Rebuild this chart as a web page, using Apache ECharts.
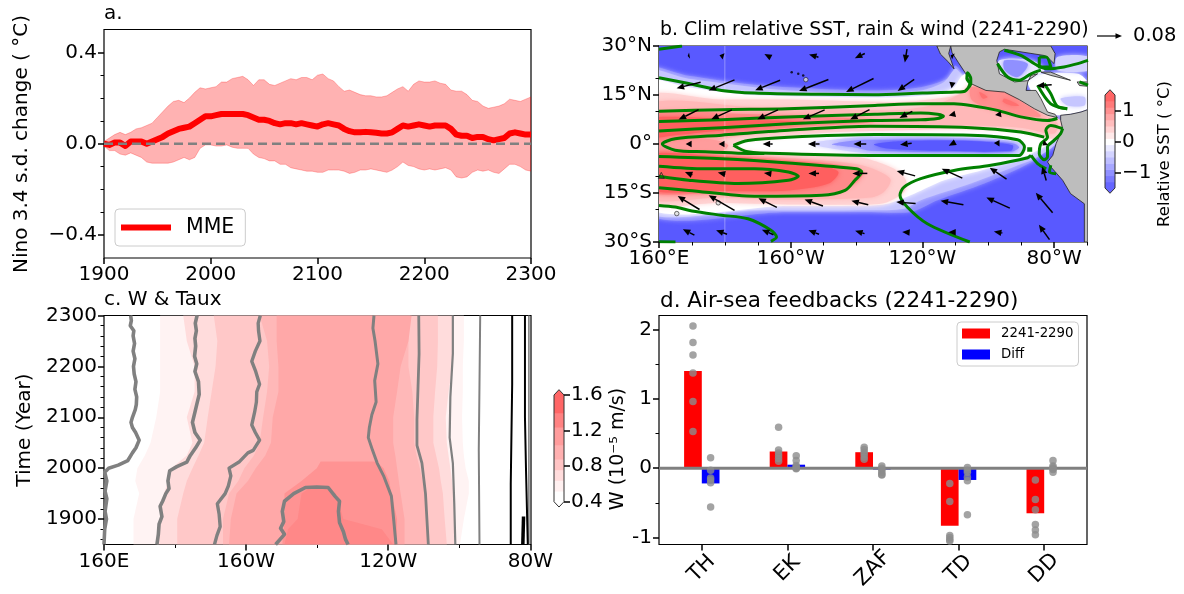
<!DOCTYPE html>
<html>
<head>
<meta charset="utf-8">
<script src="https://cdn.jsdelivr.net/npm/echarts@6/dist/echarts.min.js"></script>
<style>
  html, body { margin: 0; padding: 0; background: #fff; }
  #chart { width: 1184px; height: 594px; }
</style>
</head>
<body>
<div id="chart"></div>
<script>
// panel a: 5-year steps from 1900 to 2300
const mmeValues = [0,-0.005,0.005,0.005,-0.01,0.01,0.01,0.01,0,0.01,0.02,0.03,0.045,0.055,0.065,0.07,0.075,0.09,0.105,0.12,0.12,0.125,0.13,0.13,0.13,0.13,0.13,0.125,0.115,0.105,0.105,0.1,0.09,0.085,0.09,0.09,0.085,0.09,0.085,0.08,0.075,0.085,0.09,0.085,0.08,0.065,0.055,0.05,0.05,0.052,0.05,0.048,0.045,0.045,0.05,0.065,0.08,0.075,0.08,0.085,0.08,0.075,0.08,0.08,0.08,0.065,0.04,0.035,0.035,0.025,0.03,0.03,0.02,0.015,0.02,0.025,0.045,0.05,0.045,0.04,0.04]
const upperValues = [0.01,0.025,0.04,0.05,0.04,0.05,0.065,0.07,0.08,0.09,0.115,0.14,0.165,0.185,0.19,0.18,0.2,0.225,0.245,0.24,0.245,0.25,0.27,0.27,0.285,0.29,0.295,0.28,0.255,0.28,0.28,0.26,0.255,0.265,0.275,0.285,0.28,0.29,0.29,0.28,0.3,0.305,0.285,0.275,0.25,0.23,0.235,0.225,0.215,0.21,0.21,0.205,0.205,0.21,0.225,0.24,0.25,0.23,0.26,0.275,0.27,0.27,0.275,0.265,0.26,0.235,0.23,0.23,0.215,0.19,0.185,0.165,0.155,0.16,0.165,0.175,0.195,0.19,0.185,0.195,0.205]
const lowerValues = [-0.01,-0.03,-0.03,-0.045,-0.05,-0.04,-0.05,-0.06,-0.08,-0.085,-0.085,-0.085,-0.085,-0.08,-0.07,-0.06,-0.07,-0.06,-0.02,-0.005,-0.005,-0.01,-0.01,-0.005,-0.015,-0.02,-0.02,-0.02,-0.045,-0.06,-0.065,-0.075,-0.075,-0.09,-0.09,-0.105,-0.11,-0.115,-0.12,-0.12,-0.125,-0.125,-0.115,-0.115,-0.115,-0.12,-0.13,-0.125,-0.115,-0.115,-0.11,-0.115,-0.12,-0.125,-0.115,-0.1,-0.08,-0.095,-0.1,-0.11,-0.115,-0.11,-0.115,-0.11,-0.105,-0.115,-0.145,-0.15,-0.145,-0.125,-0.115,-0.12,-0.115,-0.125,-0.13,-0.11,-0.09,-0.09,-0.1,-0.115,-0.12]

// panel b: filled SST bands as [lon, lat] outlines (lon in degrees east)
const sstPaleA = [[155,22.8],[168.9,20.9],[184.1,18.7],[199.3,17.4],[225.6,16.4],[239.5,17.4],[248.6,20.5],[250,24],[254.7,18.5],[278,11.3],[281,1.1],[277,-1.9],[273,-5.6],[258.8,-12.1],[244.6,-17.2],[236.4,-20.8],[224.3,-20.8],[199.3,-20.8],[155,-20.5]]
const sstPaleB = [[155,22],[168.9,20],[184.1,18],[199.3,16.4],[225.6,15.4],[239.5,16.4],[246.6,19],[250,23],[251.7,21.5],[254.7,17.9],[278,11],[281,1],[274,-4.5],[269,-6.5],[254.7,-12.1],[239.5,-17.2],[234.4,-19.8],[224.3,-20.3],[189,-20.3],[155,-19.8]]
const sstWhite = [[155,19],[168.9,17.4],[179,15.9],[189,14.9],[209.4,14.4],[225.6,14.2],[234.4,14.4],[244.6,15.4],[249.6,17.4],[251.7,20.5],[253.2,21.5],[254.2,19],[278,11.3],[279.6,1.6],[273,-3],[269,-4.5],[257.8,-8.1],[246.6,-11.1],[237.5,-15.2],[229.3,-18.3],[224.3,-18.8],[199.3,-19],[155,-18.8]]
const sstPink = [[155,14],[179,13.6],[199.3,13.6],[225.6,12.9],[234.4,12.9],[244.6,13.9],[251.7,15.4],[254.7,18.5],[259.3,16.9],[264.9,16.4],[271,12.3],[278,8.8],[282,7.2],[282,4.2],[279.6,1.6],[270,4],[254.7,4.7],[239.5,4.4],[224.3,4],[209.4,3.4],[195,2.1],[185,1.1],[182.9,-0.4],[185,-1.9],[199.3,-3.2],[220,-4],[224.3,-4.8],[231.4,-7.6],[235,-11.1],[234.4,-14.7],[229.3,-17.8],[224.3,-18.5],[199.3,-18.5],[179,-18],[155,-17.2]]
const sstRose = [[155,11.3],[189,11.3],[225.6,10.3],[234.4,10.5],[244.6,12.3],[253.7,16.4],[256.8,18],[264.9,15.9],[270.9,12.3],[277,8.8],[281,6.4],[280,3.2],[269.9,5],[254.7,5.7],[234.4,5.7],[224.3,5.4],[209.4,4.7],[194,3.7],[182,2.1],[176,0.6],[175.5,-0.4],[178,-1.9],[189,-3.5],[209.4,-5],[221.6,-6.5],[228.3,-9.1],[230.4,-11.1],[228.3,-14.7],[224.3,-16.4],[199.3,-17],[179,-16.4],[155,-15.7]]
const sstWarmMid = [[155,2.5],[170,2],[178,1],[181,-0.4],[179,-2.4],[170,-3.5],[155,-4]]
const sstWarmNorth = [[155,9.1],[189,9.1],[219.5,7.8],[225.6,6.7],[199.3,5],[184,3.4],[171,2.1],[164.9,1.1],[155,0.6]]
const sstWarmSouth = [[155,-3],[179,-3.5],[199.3,-5],[215.5,-6.5],[222,-8.6],[219.5,-12.1],[213.5,-14.7],[199.3,-15.4],[179,-15],[155,-14.2]]
const sstWarmMexico = [[254.7,17.4],[259.3,16.6],[264.9,16],[270,13],[276,8.5],[268,9],[260,11],[255,13.5]]
const sstHotNorth = [[155,7.8],[184,7.4],[204.4,6.7],[189,5],[174,3.7],[164.9,2.7],[155,2.1]]
const sstHotSouth = [[155,-3.6],[179,-3.9],[197,-5.3],[209.4,-6.5],[214.5,-8.6],[211.5,-12.1],[199.3,-14.2],[179,-14.4],[155,-13.6]]
const sstHotMexicoA = [[257.3,15.9],[259.8,14.4],[258.3,13.9]]
const sstHotMexicoB = [[264.9,13.9],[269.4,11.8],[266.9,11.8],[264.4,12.9]]
const sstTongueA = [[206.4,0.1],[215.5,1.6],[225.6,2.3],[244.6,2.1],[259.8,1.6],[268.9,0.6],[271,-0.9],[268.9,-3.5],[254.7,-3.5],[234.4,-3.2],[224.3,-3],[214.5,-1.7]]
const sstTongueB = [[212.5,-0.1],[219.5,1.1],[225.6,1.3],[254.7,1.1],[267.9,0.1],[269.4,-1.1],[266.9,-2.4],[244.6,-2.4],[224.3,-2.1],[219.5,-1.1]]
const sstTongueC = [[225.3,-0.1],[234.4,0.9],[254.7,0.9],[267.4,-0.4],[266.9,-2.1],[244.6,-2.1],[229.3,-1.4]]
const sstCaribbean = [[272,20.5],[287.2,21.5],[291,17.4],[291,11.3],[281.6,8.8],[278,9.8],[273,16.4]]
const sstCaribbeanCool = [[282,13.9],[289.2,14.4],[289.2,11.8],[284,11.8]]
const sstGulf = [[263.4,25.6],[273,25.6],[277,22.6],[272,19.5],[267,18.5],[263.4,21.5]]
const sstGulfCool = [[265,25.6],[272,24.6],[269,20.5],[265,22.6]]
const sstAtlantic = [[281,26.6],[291,26.6],[291,22.6],[281,22.6]]

const landNorth = [[248.6,30],[249,28],[250.9,25],[253.2,21.5],[254.7,18.5],[259.3,16.4],[264.9,15.9],[269.4,13.6],[274,10.8],[278,8.8],[281,8.1],[280.3,9.1],[278,9.8],[276,13.9],[274.5,16.4],[271.5,16.4],[272,19],[273,21],[275,21.5],[272,19.4],[268,19],[263.4,21.5],[262.6,25.6],[263.4,28.2],[264.9,29],[277,27.1],[278,26.6],[280,24.6],[280.3,27.7],[279,30]]
const landBaja = [[244.4,30],[248.6,30],[248,27.7],[249.6,23],[248,25],[245.5,27.5]]
const landSouth = [[282,8.8],[285,9.1],[288.2,9.8],[291,10.8],[291,-30],[289.2,-30],[289.2,-18.3],[285,-15.2],[282.6,-11.1],[279,-7],[278,-5.5],[279.6,-3.5],[280.6,0.1],[282.6,4.7],[282,7.2]]
const landCuba = [[276,22],[279,22],[285,19.5],[279,21]]
const landHispaniola = [[287,19],[291,19],[291,17.6],[287.7,17.9]]

// panel b: rain contours
const rainCorner = [[160,29],[167,30]]
const rainNorth = [[160,20.3],[169,18.5],[179,16.4],[189,15.6],[209,15.2],[225,15.1],[240,15.6],[250,15.9],[253,16.2],[254.4,18.5],[253.5,20],[253.7,21.8],[254.7,20],[254.7,18.5],[253,16.2]]
const rainItcz = [[160,10],[179,10.5],[199,10.8],[225.6,11.8],[239.5,12.3],[249.6,12.3],[254.7,11.8],[262.8,10.3],[269.9,8.3],[278,7.2],[281,7.8]]
const rainTongue = [[160,6.9],[179,7.4],[199.3,8.3],[225.6,9.1],[239.5,9.5],[244.6,9.1],[246.4,8.5],[244.6,7.8],[239.5,7.4],[224.3,7.2],[199.3,6.2],[179,5],[160,4]]
const rainNoseOuter = [[277,2.1],[269.9,3.7],[254.7,5],[224.3,5.4],[199.3,4.2],[179,2.7],[164.9,1.6],[161,0],[164.9,-1.9],[174,-2.4],[184,-2.8],[192,-2.9]]
const rainNoseInner = [[182.6,-0.4],[187,1.1],[199.3,2.1],[225.6,2.9],[254.7,2.7],[268.9,1.3],[271,-0.9],[269.4,-3.5],[254.7,-3.5],[224.3,-3.5],[199.3,-3],[187,-2.4],[182.6,-0.4]]
const rainSouthOuter = [[160,-3.8],[179,-4.5],[199.3,-5.8],[220,-7.6],[221.6,-8.6],[219.5,-11.1],[216.5,-14.2],[209.4,-15.7],[189,-16],[169,-14.2],[160,-13.4]]
const rainSouthInner = [[160,-6.8],[174,-7.6],[189,-7.6],[199.3,-8.6],[202.3,-9.9],[199.3,-11.1],[184,-12.1],[169,-11.1],[160,-9.9]]
const rainSouthWest = [[160,-18.8],[164.9,-19.3],[170,-20.5],[179,-21.8],[187,-22.9],[194,-26.4],[195.7,-28.5],[194,-29.8]]
const rainBottom = [[160,-29.9],[165,-30]]
const rainSouthEast = [[273,-3.5],[272,-4.2],[260.8,-6.5],[249.6,-8.1],[239.5,-10.6],[234.4,-13.2],[233.2,-15.7],[235.4,-19.3],[241.5,-24.4],[254.4,-30]]
const rainCoastA = [[273,-3.5],[275,-6],[277.6,-7.6]]
const rainCoastB = [[282.6,4.7],[279,5.7],[277.5,4.2],[278,2.1],[276,0.1],[275.5,-3],[277,-4.8],[278,-4],[278,-0.9],[280,1.1],[282,3.2],[282.6,4.7]]
const rainCoastC = [[279,-6.5],[278.6,-8.6],[280.6,-9.1]]
const rainBlob = [[272.6,-1],[272.6,-2.4]]
const rainGulfA = [[264.9,28.7],[269.9,27.1],[275,24],[278,23],[283,23.6],[287.2,24.6],[290.3,25.6]]
const rainGulfB = [[262.8,24.6],[265.9,20.5],[269.4,19.5],[273,21.5],[276,22.6]]
const rainGulfC = [[275.5,26.6],[275.5,23.6],[279,23.6],[277.6,26.6],[275.5,26.6]]
const rainCarA = [[275,18],[279,12.3],[284,10.8]]
const rainCarB = [[277,18.5],[279,15.4],[281,11.5],[284,10.8]]
const rainCarC = [[287.7,19],[290.3,18]]

// panel b: wind stress rows, north to south
const windLons = [169,179,193,207,221,235,249,263,277]
const windLats = [27,18,9,0,-9,-18,-27]
const windU = [
  [-0.006,-0.013,-0.021,-0.03,-0.032,-0.007,-0.009,null,null],
  [-0.077,-0.083,-0.08,-0.094,-0.088,-0.053,-0.003,null,-0.048],
  [-0.064,-0.066,-0.066,-0.07,-0.062,-0.041,-0.021,-0.019,null],
  [-0.019,-0.019,-0.032,-0.037,-0.041,-0.037,-0.021,0.009,-0.011],
  [-0.024,-0.024,-0.024,-0.034,-0.048,-0.059,-0.066,-0.054,-0.013],
  [-0.07,-0.083,-0.059,-0.059,-0.054,-0.062,-0.073,-0.075,-0.054],
  [-0.037,-0.035,-0.037,-0.034,-0.03,-0.024,-0.024,-0.027,-0.034]
]
const windV = [
  [-0.001,0.004,0.011,0.009,-0.015,-0.043,0.004,null,null],
  [-0.019,-0.034,-0.032,-0.037,-0.043,-0.037,-0.019,null,-0.003],
  [-0.032,-0.03,-0.03,-0.03,-0.032,-0.021,-0.005,-0.003,null],
  [0,0,0,0,0,-0.005,-0.011,-0.016,-0.009],
  [0.009,0.005,0.003,0,0,0.016,0.03,0.037,0.045],
  [0.043,0.048,0.029,0.021,0.013,0.005,0.013,0.034,0.064],
  [0.019,0.013,0.016,0.013,0.009,0.002,0,0.005,0.048]
]
const islandDots = [[200.3,22],[202.3,21.5],[203.8,21]]
const islandRings = [[204.6,19.7],[178,-18],[165.4,-21.3]]
const islandPeaks = [[160.7,-9.6]]

// colour bars
const sstLevels = [-1.5,-1.3,-1.1,-0.9,-0.7,-0.5,-0.3,-0.1,0.1,0.3,0.5,0.7,0.9,1.1,1.3,1.5]
const sstColors = ['#6565ff','#7a7aff','#9090ff','#a7a7ff','#bdbdff','#d3d3ff','#e9e9ff','#ffffff','#ffe9e9','#ffd3d3','#ffbdbd','#ffa7a7','#ff9090','#ff7a7a','#ff6565']
const wLevels = [0.4,0.52,0.64,0.76,0.88,1.04,1.24,1.4,1.6]
const wColors = ['#ffffff','#fff0f0','#ffdcdc','#ffc4c4','#ffb0b0','#ff9c9c','#ff8282','#ff6666']

// panel c: filled W bands, edges per year
const bandYears = [1850,1900,1950,1975,2000,2025,2050,2100,2150,2200,2250,2300]
const band1Left = [168.3,168.3,169.9,168.8,169.4,171.5,173.1,174.7,175.8,175.8,175.8,175.8]
const band1Right = [260.2,261.3,262.7,262.7,261.8,261.3,261,260.8,261,261,261.3,261.3]
const band2Left = [174.9,175.8,176.9,178,179,183.3,184.9,183.3,185.5,185.5,183.3,182.3]
const band2Right = [258.6,258.6,258.4,258,257.5,257,256.5,256.2,257,258.1,258.2,258.2]
const band3Left = [180.6,180.6,182.3,183.3,184.9,186.6,188.2,189.2,190.3,191.4,191.9,190.9]
const band3Right = [256.5,255.9,255.4,254.8,254.3,253.5,252.7,252.7,253.2,253.8,254,254]
const band4Left = [193.5,193.5,195.2,197.8,199.5,202.2,203.8,204.8,205.9,206.5,205.9,203.8]
const band4Right = [251.1,251.1,250.5,249.7,248.9,248,247.3,247.3,246.8,245.7,245.7,246.2]
const band5Left = [195.2,195.7,197.3,200.5,202.7,205.4,207,207.5,209.1,209.1,208.6,208.6]
const band5Right = [244.6,244.6,243.5,243,242.5,242,241.4,241.4,242.5,243.5,245.7,246.6]
const band6Years = [1850,1900,1950,1975,2000,2013]
const band6Left = [210.2,210.8,210.8,215.6,219.9,221]
const band6Right = [242.3,242.5,240.9,240.3,238.7,236.6]
const band7Years = [1850,1880,1900,1950,1965]
const band7Left = [210.8,211.8,214.5,215.6,218.8]
const band7Right = [241.4,238.2,227.4,225.3,222]

// panel c: Taux contours as [lon, year]
const tauxA = [[167.5,2300],[167.7,2290],[167.4,2280],[168.4,2270],[168.2,2260],[168.6,2245],[168.2,2230],[168.7,2215],[168.3,2200],[168.5,2185],[169,2170],[168.7,2155],[169.2,2140],[169.1,2125],[168.8,2115],[168,2100],[167.6,2090],[168,2080],[168.9,2070],[169.9,2055],[169,2040],[168,2030],[166.7,2015],[164,2006],[161.3,2000],[160.2,1992],[160.8,1975],[160.3,1955],[160.8,1940],[160.3,1915],[160.7,1900],[160.2,1880],[160,1850]]
const tauxB = [[186.2,2300],[185.7,2285],[186,2270],[185.6,2255],[185.8,2240],[185.5,2220],[186.1,2205],[185.6,2190],[186.6,2170],[186.8,2145],[186.1,2125],[185.6,2110],[184.9,2090],[185.6,2070],[187.1,2055],[185.8,2040],[184.3,2025],[183.3,2012],[180.5,2003],[178.5,1995],[178,1975],[178.3,1960],[177.4,1950],[176.5,1935],[175.8,1925],[176.3,1905],[175.5,1890],[175.3,1870],[174.9,1850]]
const tauxC = [[204,2300],[203.4,2285],[203.5,2270],[203.9,2250],[202.6,2230],[201.6,2210],[202.7,2190],[203.8,2165],[203,2150],[202.9,2130],[202.4,2110],[201.6,2085],[202.6,2070],[203.8,2055],[202,2035],[200.5,2030],[198,2012],[195.2,2000],[195.7,1985],[195,1965],[194.1,1950],[191.9,1930],[192.4,1910],[192.7,1885],[191.8,1868],[191.1,1850]]
const tauxDome = [[208.3,1850],[210.8,1870],[209.7,1882],[210.6,1895],[210.2,1915],[210.8,1935],[213.4,1950],[216.7,1962],[219.9,1963],[223.1,1962],[225,1945],[226.3,1935],[226,1915],[226.3,1893],[227.4,1875],[228,1860],[228.7,1850]]
const tauxE = [[236,2300],[235.7,2275],[236.3,2250],[237.1,2205],[236.2,2172],[236.6,2130],[235.4,2105],[234.7,2080],[234.4,2060],[235.6,2035],[236.9,2010],[238.7,1985],[240.9,1945],[241.6,1895],[242.2,1850]]
const tauxF = [[248.6,2300],[248.7,2225],[248.4,2160],[248.1,2095],[248.1,2045],[249.5,2010],[250.5,1950],[250.9,1900],[251.3,1850]]
const tauxG = [[258.2,2300],[258.2,2225],[257.5,2140],[257.3,2060],[258.2,2010],[258.6,1930],[258.9,1850]]
const tauxH = [[265.9,2300],[265.7,2165],[265.5,2035],[265.7,1850]]
const tauxI = [[279.6,2300],[279.6,1850]]
const tauxBlackA = [[274.9,2300],[274.9,2165],[274.5,1970],[274.5,1850]]
const tauxBlackB = [[278.5,2300],[278.5,2100],[278.8,1995],[279.3,1850]]
const tauxBlackC = [[277.9,1850],[278.1,1905]]

// panel d
const feedbackNames = ['TH','EK','ZAF','TD','DD']
const climBars = [1.4,0.24,0.23,-0.83,-0.65]
const diffBars = [-0.22,0.05,-0.02,-0.17,0]
const climDots = [
  [2.05,1.81,1.63,1.37,0.96,0.53],
  [0.59,0.26,0.22,0.18,0.14,0.1],
  [0.3,0.27,0.23,0.2,0.16,0.13],
  [-0.22,-0.48,-0.97,-1,-1.03,-1.05],
  [-0.17,-0.45,-0.6,-0.81,-0.89,-0.96]
]
const diffDots = [
  [0.15,-0.03,-0.14,-0.17,-0.21,-0.56],
  [0.18,0.11,0.04,0.02,0,-0.01],
  [0.03,0,-0.03,-0.06,-0.09,-0.1],
  [0.01,-0.03,-0.06,-0.13,-0.18,-0.67],
  [0.11,0.03,0.01,-0.01,-0.02,-0.06]
]

const FONT = 'DejaVu Sans'
const TICK_SIZE = 20

function zip(xs, ys) {
  return xs.map((x, i) => [x, ys[i]])
}

// major ticks and labels on one axis, minor ticks on a silent twin
function axisPair(kind, gridIndex, min, max, majors, minors, fmt) {
  const base = { type: 'value', gridIndex, min, max, splitLine: { show: false }, axisLine: { show: false, onZero: false } }
  if (kind === 'y') base.position = 'left'
  if (kind === 'x') base.position = 'bottom'
  const major = {
    ...base,
    z: 10,
    axisTick: { show: true, length: 6, lineStyle: { color: '#000', width: 1.5 }, customValues: majors },
    axisLabel: {
      show: true, margin: 7, fontFamily: FONT, fontSize: TICK_SIZE, color: '#000',
      customValues: majors, formatter: fmt, hideOverlap: false,
    },
  }
  const minor = {
    ...base,
    axisTick: { show: true, length: 3.5, lineStyle: { color: '#000', width: 1 }, customValues: minors },
    axisLabel: { show: false },
  }
  return minors.length ? [major, minor] : [major]
}

function polySeries(xIdx, yIdx, polys, z, soft) {
  return {
    type: 'custom',
    xAxisIndex: xIdx,
    yAxisIndex: yIdx,
    z,
    clip: true,
    silent: true,
    data: polys.map((p, i) => [i]),
    renderItem(params, api) {
      const p = polys[params.dataIndex]
      const style = { fill: p.fill, stroke: p.stroke || null, lineWidth: p.lineWidth || 0 }
      if (soft) {
        style.shadowBlur = 5
        style.shadowColor = p.fill
      }
      return {
        type: 'polygon',
        shape: { points: p.pts.map((q) => api.coord(q)), smooth: p.smooth || 0 },
        style,
      }
    },
  }
}

function lineOf(xIdx, yIdx, pts, color, width, z, smooth) {
  return {
    type: 'line', xAxisIndex: xIdx, yAxisIndex: yIdx, data: pts, z: z || 5,
    symbol: 'none', silent: true, clip: true, smooth: smooth || 0,
    lineStyle: { color, width, join: 'round' },
    itemStyle: { color },
  }
}

// stacked colour bar blocks with pointed ends
function colorBarSeries(xIdx, yIdx, levels, colors, tipSpan) {
  const lo = levels[0]
  const hi = levels[levels.length - 1]
  const lowTip = colors[0]
  const highTip = colors[colors.length - 1]
  return {
    type: 'custom', xAxisIndex: xIdx, yAxisIndex: yIdx, z: 5, clip: false, silent: true,
    data: colors.map((c, i) => [i]),
    renderItem(params, api) {
      const i = params.dataIndex
      const a = api.coord([0, levels[i]])
      const b = api.coord([1, levels[i + 1]])
      const children = [{
        type: 'rect',
        shape: { x: a[0], y: b[1], width: b[0] - a[0], height: a[1] - b[1] + 0.5 },
        style: { fill: colors[i] },
      }]
      if (i === colors.length - 1) {
        const outline = [[0, lo], [0.5, lo - tipSpan], [1, lo], [1, hi], [0.5, hi + tipSpan], [0, hi]].map((q) => api.coord(q))
        children.push({ type: 'polygon', shape: { points: [[0, lo], [0.5, lo - tipSpan], [1, lo]].map((q) => api.coord(q)) }, style: { fill: lowTip } })
        children.push({ type: 'polygon', shape: { points: [[0, hi], [0.5, hi + tipSpan], [1, hi]].map((q) => api.coord(q)) }, style: { fill: highTip } })
        children.push({ type: 'polygon', shape: { points: outline }, style: { fill: null, stroke: '#333', lineWidth: 1 } })
      }
      return { type: 'group', children }
    },
  }
}

const gridBox = { show: true, borderColor: '#000', borderWidth: 1.2, backgroundColor: '#fff', containLabel: false, outerBoundsMode: 'none' }

const grids = [
  { ...gridBox, left: 104, top: 29.5, width: 427, height: 228.5 },
  { ...gridBox, left: 659, top: 46, width: 428, height: 196 },
  { ...gridBox, left: 104, top: 315.5, width: 427, height: 229 },
  { ...gridBox, left: 659, top: 315.5, width: 428, height: 229 },
  { left: 1105, top: 95, width: 10, height: 93, outerBoundsMode: 'none' },
  { left: 554, top: 395, width: 10, height: 106.7, outerBoundsMode: 'none' },
]

const lonLabel = (v) => (v <= 180 ? v + '°E' : 360 - v + '°W')
const latLabel = (v) => (v === 0 ? '0°' : Math.abs(v) + (v > 0 ? '°N' : '°S'))
const lonPlain = (v) => (v <= 180 ? v + 'E' : 360 - v + 'W')
const minusLabel = (v) => String(v).replace('-', '−')
const hiddenAxis = (gridIndex, min, max) => ({ type: 'value', gridIndex, min, max, show: false, axisLine: { onZero: false } })

const xAxes = [
  ...axisPair('x', 0, 1900, 2300, [1900, 2000, 2100, 2200, 2300], [], (v) => String(v)),
  ...axisPair('x', 1, 160, 290, [160, 200, 240, 280], [170, 180, 190, 210, 220, 230, 250, 260, 270, 290], lonLabel),
  ...axisPair('x', 2, 160, 280.2, [160, 200, 240, 280], [180, 220, 260], lonPlain),
  {
    type: 'category', gridIndex: 3, data: feedbackNames, position: 'bottom', z: 10,
    axisLine: { show: false, onZero: false },
    axisTick: { show: true, alignWithLabel: true, length: 6, lineStyle: { color: '#000', width: 1.5 } },
    axisLabel: {
      rotate: 45, interval: 0, margin: 24, align: 'center', verticalAlign: 'middle',
      fontFamily: FONT, fontSize: 21, color: '#000',
    },
  },
  hiddenAxis(3, -0.5, 4.5),
  hiddenAxis(4, 0, 1),
  hiddenAxis(5, 0, 1),
]
const X_A = 0, X_B = 1, X_C = 3, X_D = 5, X_DV = 6, X_CB1 = 7, X_CB2 = 8

const yAxes = [
  ...axisPair('y', 0, -0.5, 0.5, [-0.4, 0, 0.4], [-0.3, -0.2, -0.1, 0.1, 0.2, 0.3], (v) => minusLabel(v.toFixed(1))),
  ...axisPair('y', 1, -30, 30, [-30, -15, 0, 15, 30], [-20, -10, 10, 20], latLabel),
  ...axisPair('y', 2, 1850, 2300, [1900, 2000, 2100, 2200, 2300], [1860, 1880, 1920, 1940, 1960, 1980, 2020, 2040, 2060, 2080, 2120, 2140, 2160, 2180, 2220, 2240, 2260, 2280], (v) => String(v)),
  ...axisPair('y', 3, -1.1, 2.2, [-1, 0, 1, 2], [-0.5, 0.5, 1.5], (v) => String(v)),
  ...axisPair('y', 4, -1.5, 1.5, [-1, 0, 1], [], minusLabel),
  ...axisPair('y', 5, 0.4, 1.6, [0.4, 0.8, 1.2, 1.6], [], (v) => v.toFixed(1)),
]
yAxes[yAxes.length - 2].position = 'right'
yAxes[yAxes.length - 1].position = 'right'
const Y_A = 0, Y_B = 2, Y_C = 4, Y_D = 6, Y_CB1 = 8, Y_CB2 = 9

const years = mmeValues.map((v, i) => 1900 + i * 5)

const sstPolys = [
  { pts: sstPaleA, fill: '#9090ff', smooth: 0.3 },
  { pts: sstPaleB, fill: '#c6c6ff', smooth: 0.3 },
  { pts: sstWhite, fill: '#ffffff', smooth: 0.3 },
  { pts: sstCaribbean, fill: '#ffffff', smooth: 0.3 },
  { pts: sstCaribbeanCool, fill: '#c6c6ff', smooth: 0.3 },
  { pts: sstGulf, fill: '#e9e9ff', smooth: 0.3 },
  { pts: sstGulfCool, fill: '#9090ff', smooth: 0.3 },
  { pts: sstAtlantic, fill: '#d3d3ff', smooth: 0.3 },
  { pts: sstPink, fill: '#ffd3d3', smooth: 0.3 },
  { pts: sstRose, fill: '#ffb8b8', smooth: 0.3 },
  { pts: sstWarmMid, fill: '#ff9c9c', smooth: 0.3 },
  { pts: sstWarmNorth, fill: '#ff8a8a', smooth: 0.3 },
  { pts: sstWarmSouth, fill: '#ff8a8a', smooth: 0.3 },
  { pts: sstWarmMexico, fill: '#ff8f8f', smooth: 0.3 },
  { pts: sstHotNorth, fill: '#ff5f5f', smooth: 0.3 },
  { pts: sstHotSouth, fill: '#ff5f5f', smooth: 0.3 },
  { pts: sstHotMexicoA, fill: '#ff7070', smooth: 0.3 },
  { pts: sstHotMexicoB, fill: '#ff7070', smooth: 0.3 },
  { pts: sstTongueA, fill: '#d3d3ff', smooth: 0.3 },
  { pts: sstTongueB, fill: '#9090ff', smooth: 0.3 },
  { pts: sstTongueC, fill: '#5959ff', smooth: 0.3 },
]

const landPolys = [landNorth, landBaja, landSouth, landCuba, landHispaniola].map((pts) => ({
  pts, fill: '#bdbdbd', stroke: '#222', lineWidth: 0.8,
}))

const bandPolys = [
  [bandYears, band1Left, band1Right, '#fff3f3'],
  [bandYears, band2Left, band2Right, '#ffdcdc'],
  [bandYears, band3Left, band3Right, '#ffc8c8'],
  [bandYears, band4Left, band4Right, '#ffb8b8'],
  [bandYears, band5Left, band5Right, '#ffa8a8'],
  [band6Years, band6Left, band6Right, '#ff9393'],
  [band7Years, band7Left, band7Right, '#ff8888'],
].map(([ys, left, right, fill]) => ({
  pts: zip(left, ys).concat(zip(right, ys).reverse()), fill,
}))

const rainLines = [rainCorner, rainNorth, rainItcz, rainTongue, rainNoseOuter, rainNoseInner, rainSouthOuter, rainSouthInner, rainSouthWest, rainBottom, rainSouthEast, rainCoastA, rainCoastB, rainCoastC, rainGulfA, rainGulfB, rainGulfC, rainCarA, rainCarB, rainCarC]

const windData = []
windLats.forEach((lat, r) => {
  windLons.forEach((lon, c) => {
    if (windU[r][c] !== null) windData.push([lon, lat, windU[r][c], windV[r][c]])
  })
})

const climDotData = []
const diffDotData = []
feedbackNames.forEach((name, i) => {
  climDots[i].forEach((v) => climDotData.push([i - 0.103, v]))
  diffDots[i].forEach((v) => diffDotData.push([i + 0.103, v]))
})

const series = [
  // a
  polySeries(X_A, Y_A, [{
    pts: zip(years, upperValues).concat(zip(years, lowerValues).reverse()),
    fill: 'rgba(255,0,0,0.3)', stroke: 'rgba(255,0,0,0.25)', lineWidth: 1,
  }], 2),
  { ...lineOf(X_A, Y_A, zip(years, mmeValues), '#ff0000', 6, 3), name: 'MME' },
  { ...lineOf(X_A, Y_A, [[1900, 0], [2300, 0]], '#808080', 2.4, 4), lineStyle: { color: '#808080', width: 2.4, type: [9, 5] } },

  // b
  polySeries(X_B, Y_B, [{ pts: [[155, -35], [295, -35], [295, 35], [155, 35]], fill: '#5959ff' }], 1),
  polySeries(X_B, Y_B, sstPolys, 2, true),
  lineOf(X_B, Y_B, [[180, 30], [180, -30]], 'rgba(255,255,255,0.35)', 1, 3),
  polySeries(X_B, Y_B, landPolys, 3),
  ...rainLines.map((pts) => lineOf(X_B, Y_B, pts, '#008000', 3, 5, 0.3)),
  lineOf(X_B, Y_B, rainBlob, '#008000', 5, 5),
  {
    type: 'scatter', xAxisIndex: X_B, yAxisIndex: Y_B, data: islandDots, symbolSize: 2.5, z: 6, silent: true,
    itemStyle: { color: '#000' },
  },
  {
    type: 'scatter', xAxisIndex: X_B, yAxisIndex: Y_B, data: islandRings, symbolSize: 4.5, z: 6, silent: true,
    itemStyle: { color: '#ddd', borderColor: '#222', borderWidth: 0.8 },
  },
  {
    type: 'scatter', xAxisIndex: X_B, yAxisIndex: Y_B, data: islandPeaks, symbol: 'triangle', symbolSize: 6, z: 6, silent: true,
    itemStyle: { color: 'rgba(0,0,0,0)', borderColor: '#222', borderWidth: 1 },
  },
  {
    type: 'custom', xAxisIndex: X_B, yAxisIndex: Y_B, z: 7, clip: true, silent: true, data: windData,
    encode: { x: 0, y: 1 },
    renderItem(params, api) {
      const c = api.coord([api.value(0), api.value(1)])
      const dx = api.value(2) * 312
      const dy = -api.value(3) * 312
      const len = Math.hypot(dx, dy) || 1
      const ux = dx / len
      const uy = dy / len
      const tip = [c[0] + dx / 2, c[1] + dy / 2]
      const tail = [c[0] - dx / 2, c[1] - dy / 2]
      const headLen = Math.min(len, 7.5)
      const neck = [tip[0] - ux * headLen, tip[1] - uy * headLen]
      return {
        type: 'group',
        children: [
          { type: 'line', shape: { x1: tail[0], y1: tail[1], x2: neck[0], y2: neck[1] }, style: { stroke: '#000', lineWidth: 1.5 } },
          {
            type: 'polygon',
            shape: { points: [tip, [neck[0] - uy * 3.2, neck[1] + ux * 3.2], [neck[0] + uy * 3.2, neck[1] - ux * 3.2]] },
            style: { fill: '#000' },
          },
        ],
      }
    },
  },

  // c
  polySeries(X_C, Y_C, bandPolys, 2),
  lineOf(X_C, Y_C, tauxA, '#808080', 3.6, 4),
  lineOf(X_C, Y_C, tauxB, '#808080', 3.6, 4),
  lineOf(X_C, Y_C, tauxC, '#808080', 3.4, 4),
  lineOf(X_C, Y_C, tauxDome, '#808080', 3.6, 4),
  lineOf(X_C, Y_C, tauxE, '#808080', 3, 4),
  lineOf(X_C, Y_C, tauxF, '#808080', 2.8, 4),
  lineOf(X_C, Y_C, tauxG, '#808080', 2.2, 4),
  lineOf(X_C, Y_C, tauxH, '#808080', 2, 4),
  lineOf(X_C, Y_C, tauxI, '#808080', 1.6, 4),
  lineOf(X_C, Y_C, tauxBlackA, '#000', 2, 5),
  lineOf(X_C, Y_C, tauxBlackB, '#000', 2, 5),
  lineOf(X_C, Y_C, tauxBlackC, '#000', 3.5, 5),

  // d
  {
    type: 'bar', name: '2241-2290', xAxisIndex: X_D, yAxisIndex: Y_D, data: climBars, barWidth: 17.7, barGap: '0%', z: 2,
    itemStyle: { color: '#ff0000' }, silent: true,
  },
  {
    type: 'bar', name: 'Diff', xAxisIndex: X_D, yAxisIndex: Y_D, data: diffBars, barWidth: 17.7, barGap: '0%', z: 2,
    itemStyle: { color: '#0000ff' }, silent: true,
  },
  lineOf(X_DV, Y_D, [[-0.5, 0], [4.5, 0]], '#808080', 3, 3),
  {
    type: 'scatter', xAxisIndex: X_DV, yAxisIndex: Y_D, data: climDotData, symbolSize: 7.5, z: 4, silent: true,
    itemStyle: { color: '#8c8c8c' },
  },
  {
    type: 'scatter', xAxisIndex: X_DV, yAxisIndex: Y_D, data: diffDotData, symbolSize: 7.5, z: 4, silent: true,
    itemStyle: { color: '#8c8c8c' },
  },

  // colour bars
  colorBarSeries(X_CB1, Y_CB1, sstLevels, sstColors, 0.17),
  colorBarSeries(X_CB2, Y_CB2, wLevels, wColors, 0.06),
]

const titleAt = (text, left, top, size) => ({
  text, left, top, padding: 0,
  textStyle: { fontFamily: FONT, fontSize: size, fontWeight: 'normal', color: '#000' },
})

const sideText = (text, x, y, size) => ({
  type: 'text', x, y, rotation: Math.PI / 2,
  style: { text, fontFamily: FONT, fontSize: size, fill: '#000', align: 'center', verticalAlign: 'middle' },
})

const option = {
  animation: false,
  backgroundColor: '#fff',
  textStyle: { fontFamily: FONT },
  grid: grids,
  xAxis: xAxes,
  yAxis: yAxes,
  title: [
    titleAt('a.', 104, 4, 20),
    titleAt('b. Clim relative SST, rain & wind (2241-2290)', 660, 21, 18.9),
    titleAt('c. W & Taux', 104, 290, 20),
    titleAt('d. Air-sea feedbacks (2241-2290)', 660, 290, 21.5),
  ],
  legend: [
    {
      data: [{ name: 'MME', icon: 'rect' }], left: 115, top: 209, padding: [8, 11, 8, 6], selectedMode: false,
      itemWidth: 50, itemHeight: 6, itemGap: 0,
      backgroundColor: '#fff', borderColor: '#ccc', borderWidth: 1, borderRadius: 4,
      textStyle: { fontFamily: FONT, fontSize: 20.5, color: '#000', padding: [0, 0, 0, 10] },
    },
    {
      data: ['2241-2290', 'Diff'], orient: 'vertical', left: 957, top: 322, padding: [5, 5, 5, 5], selectedMode: false,
      itemWidth: 28, itemHeight: 10, itemGap: 8, icon: 'rect',
      backgroundColor: '#fff', borderColor: '#ccc', borderWidth: 1, borderRadius: 4,
      textStyle: { fontFamily: FONT, fontSize: 13.3, color: '#000', padding: [0, 0, 0, 6] },
    },
  ],
  graphic: [
    sideText('Nino 3.4 s.d. change ( °C)', 22, 144, 20),
    sideText('Time (Year)', 25, 430, 20),
    sideText('W (10⁻⁵ m/s)', 618, 449, 19),
    sideText('Relative SST ( °C)', 1165, 154, 16.5),
    { type: 'line', shape: { x1: 1097, y1: 36, x2: 1116, y2: 36 }, style: { stroke: '#000', lineWidth: 1.2 } },
    { type: 'polygon', shape: { points: [[1122, 36], [1115.5, 33.2], [1115.5, 38.8]] }, style: { fill: '#000' } },
    { type: 'text', x: 1133, y: 36, style: { text: '0.08', fontFamily: FONT, fontSize: 19.5, fill: '#000', verticalAlign: 'middle' } },
  ],
  series,
}

const chart = echarts.init(document.getElementById('chart'), null, { renderer: 'canvas' })
chart.setOption(option)
</script>
</body>
</html>
